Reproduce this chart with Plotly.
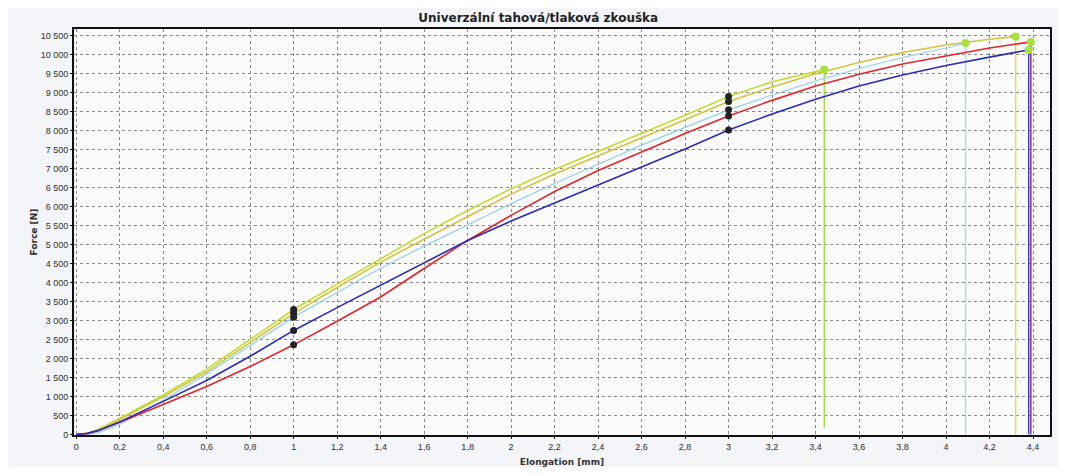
import plotly.graph_objects as go

# ---------------- data ----------------
lime_x = [0, 0.05, 0.1, 0.2, 0.4, 0.6, 0.8, 1.0, 1.2, 1.4, 1.6, 1.8, 2.0, 2.2, 2.4, 2.6, 2.8, 3.0, 3.2, 3.44]
lime_y = [0, 20, 130, 420, 1040, 1720, 2500, 3290, 3960, 4630, 5290, 5900, 6470, 6980, 7450, 7930, 8410, 8900, 9290, 9610]

yellow_x = [0, 0.05, 0.1, 0.2, 0.4, 0.6, 0.8, 1.0, 1.2, 1.4, 1.6, 1.8, 2.0, 2.2, 2.4, 2.6, 2.8, 3.0, 3.2, 3.4, 3.6, 3.8, 4.0, 4.2, 4.32]
yellow_y = [0, 15, 110, 390, 990, 1650, 2420, 3190, 3870, 4540, 5140, 5740, 6330, 6860, 7330, 7800, 8290, 8770, 9150, 9500, 9800, 10060, 10260, 10410, 10480]

cyan_x = [0, 0.05, 0.1, 0.2, 0.4, 0.6, 0.8, 1.0, 1.2, 1.4, 1.6, 1.8, 2.0, 2.2, 2.4, 2.6, 2.8, 3.0, 3.2, 3.4, 3.6, 3.8, 4.0, 4.09]
cyan_y = [0, 0, 40, 260, 900, 1590, 2340, 3090, 3740, 4380, 4960, 5520, 6080, 6610, 7120, 7620, 8090, 8550, 8940, 9310, 9640, 9930, 10180, 10310]

red_x = [0, 0.05, 0.1, 0.2, 0.4, 0.6, 0.8, 1.0, 1.2, 1.4, 1.6, 1.8, 2.0, 2.2, 2.4, 2.6, 2.8, 3.0, 3.2, 3.4, 3.6, 3.8, 4.0, 4.2, 4.39]
red_y = [0, 20, 100, 320, 790, 1260, 1790, 2360, 2980, 3620, 4370, 5110, 5770, 6400, 6950, 7450, 7930, 8390, 8800, 9180, 9490, 9760, 9980, 10180, 10340]

blue_x = [0, 0.05, 0.1, 0.2, 0.4, 0.6, 0.8, 1.0, 1.2, 1.4, 1.6, 1.8, 2.0, 2.2, 2.4, 2.6, 2.8, 3.0, 3.2, 3.4, 3.6, 3.8, 4.0, 4.2, 4.38]
blue_y = [0, 30, 100, 330, 870, 1420, 2060, 2740, 3340, 3930, 4520, 5110, 5620, 6090, 6560, 7030, 7520, 8020, 8440, 8830, 9180, 9470, 9720, 9940, 10130]

# force level where each specimen's break (drop) line ends
drop_end = {"lime": 180, "yellow": 0, "cyan": 0, "red": 0, "blue": 0}

# elongations where measurement points are marked
mark_x = [1.0, 3.0]

y_ticks = list(range(0, 11000, 500))
y_ticktext = [f"{v:,}".replace(",", " ") for v in y_ticks]
x_ticks = [round(i * 0.2, 1) for i in range(23)]
x_ticktext = [("%g" % v).replace(".", ",") for v in x_ticks]

# ---------------- styling ----------------
series = [
    ("lime", lime_x, lime_y, "#c2dc2c", "#9fe03a", 1.6),
    ("yellow", yellow_x, yellow_y, "#d2c23e", "#e8df3a", 1.6),
    ("cyan", cyan_x, cyan_y, "#92d0ea", "#a8dcee", 1.2),
    ("red", red_x, red_y, "#e0262a", "#8a2a6a", 1.6),
    ("blue", blue_x, blue_y, "#2b2bb5", "#3a3ad0", 1.6),
]

fig = go.Figure()

for name, xs, ys, col, dropcol, w in series:
    fig.add_trace(go.Scatter(x=xs, y=ys, mode="lines",
                             line=dict(color=col, width=w), showlegend=False))
    # vertical break line
    fig.add_trace(go.Scatter(x=[xs[-1], xs[-1]], y=[ys[-1], drop_end[name]], mode="lines",
                             line=dict(color=dropcol, width=1.4), showlegend=False))

# black measurement markers
for name, xs, ys, col, dropcol, w in series:
    mx = [x for x in xs if x in mark_x]
    my = [ys[xs.index(x)] for x in mx]
    fig.add_trace(go.Scatter(x=mx, y=my, mode="markers",
                             marker=dict(color="#222222", size=7), showlegend=False))

# green end markers
for name, xs, ys, col, dropcol, w in series:
    fig.add_trace(go.Scatter(x=[xs[-1]], y=[ys[-1]], mode="markers",
                             marker=dict(color="#a6e23c", size=8), showlegend=False))

axis_font = dict(family="Liberation Sans, Arial, sans-serif", size=9, color="#2e2e2e")
title_font = dict(family="DejaVu Sans", size=9, color="#333333")

# page body has an 8px margin, so the figure is sized to fit the 1066x475 window
fig.update_layout(
    width=1050, height=459,
    margin=dict(l=66, r=8, t=21, b=32),
    paper_bgcolor="#f4f5f8",
    plot_bgcolor="#fbfbfc",
    title=dict(text="<b>Univerzální tahová/tlaková zkouška</b>", x=0.505, xanchor="center",
               y=1 - 10 / 459, yanchor="middle",
               font=dict(family="DejaVu Sans", size=12, color="#222222")),
    xaxis=dict(range=[-0.01, 4.478], tickvals=x_ticks, ticktext=x_ticktext,
               tickfont=axis_font, showgrid=True, gridcolor="#8a8a8a", griddash="3px,3px",
               gridwidth=1, zeroline=False, showline=True, linecolor="#111111", linewidth=2,
               mirror=True, ticks="outside", ticklen=2, tickcolor="#111111", automargin=False,
               title=dict(text="<b>Elongation [mm]</b>", standoff=8, font=title_font)),
    yaxis=dict(range=[-15, 10680], tickvals=y_ticks, ticktext=y_ticktext,
               tickfont=axis_font, showgrid=True, gridcolor="#8a8a8a", griddash="3px,3px",
               gridwidth=1, zeroline=False, showline=True, linecolor="#111111", linewidth=2,
               mirror=True, ticks="outside", ticklen=2, tickcolor="#111111", automargin=False,
               title=dict(text="<b>Force [N]</b>", standoff=2, font=title_font)),
)

fig.write_html("out.html")
